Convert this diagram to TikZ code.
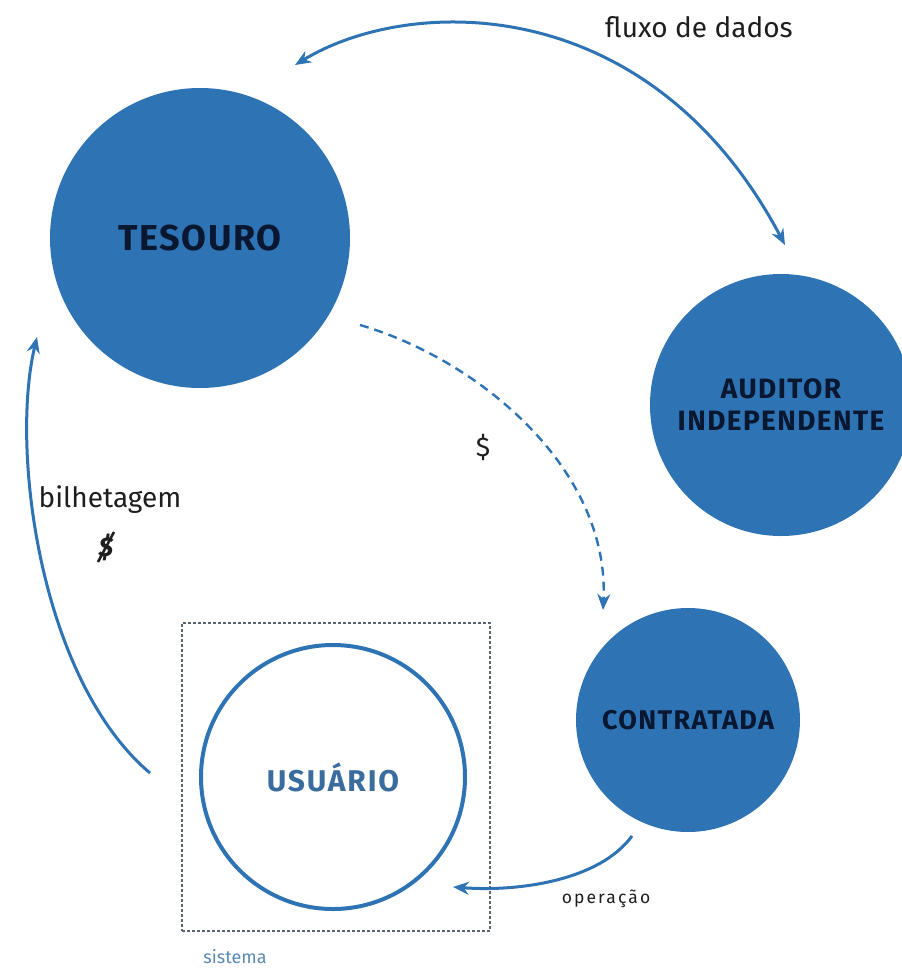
\documentclass[tikz,border=0pt]{standalone}
\usepackage{fontspec}
\setmainfont{Fira Sans}
\usetikzlibrary{arrows.meta,calc}
\definecolor{cblue}{HTML}{2E74B5}
\definecolor{navy}{HTML}{0A1730}
\definecolor{ublue}{HTML}{3A6C9E}
\definecolor{sblue}{HTML}{5A88B4}
\definecolor{boxgray}{HTML}{5A6470}
\definecolor{txt}{HTML}{1E1E1E}
\tikzset{
  filledcirc/.style={circle, fill=cblue, draw=none, text=navy, align=center, inner sep=0pt},
  flow/.style={draw=cblue, line width=3pt, -{Stealth[length=16pt,width=13pt]}},
  flowboth/.style={draw=cblue, line width=3pt, {Stealth[length=16pt,width=13pt]}-{Stealth[length=16pt,width=13pt]}},
  dashflow/.style={draw=cblue, line width=2.4pt, dash pattern=on 9pt off 6pt, -{Stealth[length=16pt,width=13pt]}},
  lbl/.style={text=txt, inner sep=0pt}
}
\begin{document}
\begin{tikzpicture}[x=1pt,y=-1pt]
\useasboundingbox (0,0) rectangle (902,970);

% circles
\node[filledcirc, minimum size=300pt, font=\bfseries\addfontfeature{LetterSpace=4}\fontsize{36}{40}\selectfont] (tes) at (200,238) {TESOURO};
\node[filledcirc, minimum size=262pt, font=\bfseries\addfontfeature{LetterSpace=5}\fontsize{28}{32}\selectfont] (aud) at (781,405) {AUDITOR\\INDEPENDENTE};
\node[filledcirc, minimum size=224pt, font=\bfseries\addfontfeature{LetterSpace=5}\fontsize{27}{30}\selectfont] (con) at (688,720) {CONTRATADA};
\node[draw=boxgray, line width=1.2pt, dash pattern=on 3pt off 2pt, minimum width=308pt, minimum height=308pt] (sis) at (336,777) {};
\node[circle, draw=cblue, line width=4pt, minimum size=264pt, text=ublue, font=\bfseries\addfontfeature{LetterSpace=6}\fontsize{30}{34}\selectfont] (usu) at (333,777) {USUÁRIO};

% labels
\node[lbl, font=\fontsize{28}{32}\selectfont] (fl) at (699,27) {fluxo de dados};
\node[lbl, font=\fontsize{28}{32}\selectfont] (bil) at (110,500) {bilhetagem};
\node[lbl, font=\fontsize{27}{30}\selectfont] (dol) at (483,447) {\$};
\node[lbl, font=\itshape\bfseries\fontsize{27}{30}\selectfont] (ndol) at (106,547) {\$};
\draw[txt, line width=2.6pt] ($(ndol)+(-8,15)$) coordinate (s1) -- ($(ndol)+(8,-15)$) coordinate (s2);
\node[lbl, font=\addfontfeature{LetterSpace=12}\fontsize{17.5}{20}\selectfont] (op) at (606,899) {operação};
\node[lbl, text=sblue, font=\fontsize{18}{20}\selectfont] (sisl) at (235,957) {sistema};

% connector end points
\coordinate (f1) at (295,65);
\coordinate (f2) at (785,245);
\coordinate (b1) at (150,773);
\coordinate (b2) at (37,337);
\coordinate (d1) at (360,325);
\coordinate (d2) at (603,610);
\coordinate (o1) at (632,836);
\coordinate (o2) at (453,887);

% connectors
\draw[flowboth] (f1) .. controls (410,-5) and (650,-10) .. (f2);
\draw[flow] (b1) .. controls (40,680) and (10,450) .. (b2);
\draw[dashflow] (d1) .. controls (480,360) and (610,470) .. (d2);
\draw[flow] (o1) .. controls (600,880) and (520,892) .. (o2);
\end{tikzpicture}
\end{document}
